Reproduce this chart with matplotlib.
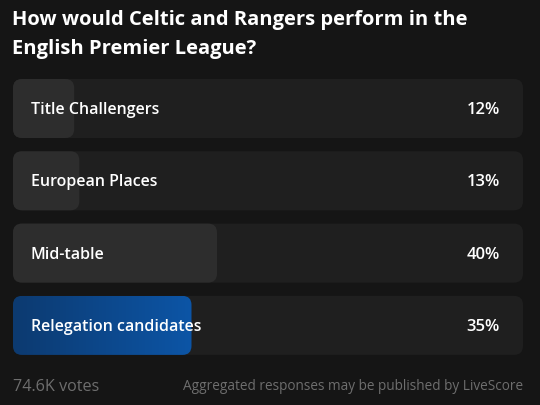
import matplotlib
matplotlib.use("Agg")
import matplotlib.pyplot as plt
from matplotlib.patches import FancyBboxPatch
import numpy as np

title_lines = ["How would Celtic and Rangers perform in the", "English Premier League?"]
categories = ["Title Challengers", "European Places", "Mid-table", "Relegation candidates"]
percentages = [12, 13, 40, 35]
highlight = [False, False, False, True]
votes_text = "74.6K votes"
footer_text = "Aggregated responses may be published by LiveScore"

W, H = 540, 405
fig = plt.figure(figsize=(W / 100, H / 100), dpi=100)
fig.patch.set_facecolor("#151515")
ax = fig.add_axes([0, 0, 1, 1])
ax.set_xlim(0, W)
ax.set_ylim(H, 0)
ax.axis("off")
ax.set_facecolor("#151515")

FONT = ["Open Sans", "DejaVu Sans"]

for j, line in enumerate(title_lines):
    ax.text(12, 25.5 + j * 28.5, line, color="white", fontsize=14.5, fontweight="bold",
            family=FONT, va="baseline", ha="left")

track_x0, track_x1 = 13, 523
track_w = track_x1 - track_x0
row_top0 = 79
row_h = 59
row_gap = 72.3
rad = 9

for i, (cat, pct, hl) in enumerate(zip(categories, percentages, highlight)):
    y0 = row_top0 + i * row_gap
    track = FancyBboxPatch((track_x0, y0), track_w, row_h,
                           boxstyle=f"round,pad=0,rounding_size={rad}",
                           linewidth=0, facecolor="#1f1f1f", zorder=1)
    ax.add_patch(track)
    fw = track_w * pct / 100.0
    if hl:
        bar = FancyBboxPatch((track_x0, y0), fw, row_h,
                             boxstyle=f"round,pad=0,rounding_size={rad}",
                             linewidth=0, facecolor="none", zorder=2)
        ax.add_patch(bar)
        grad = np.linspace(0, 1, 256).reshape(1, -1)
        c0 = np.array([0x0d, 0x3a, 0x70]) / 255
        c1 = np.array([0x0c, 0x55, 0xa6]) / 255
        img = (c0[None, None, :] * (1 - grad[..., None]) + c1[None, None, :] * grad[..., None])
        im = ax.imshow(img, extent=(track_x0, track_x0 + fw, y0 + row_h, y0),
                       aspect="auto", zorder=2, interpolation="bilinear")
        im.set_clip_path(bar)
    else:
        bar = FancyBboxPatch((track_x0, y0), fw, row_h,
                             boxstyle=f"round,pad=0,rounding_size={rad}",
                             linewidth=0, facecolor="#2d2d2d", zorder=2)
        ax.add_patch(bar)
    yc = y0 + row_h / 2 + 1.5
    ax.text(31, yc, cat, color="white", fontsize=11.5, fontweight="semibold",
            family=FONT, va="center", ha="left", zorder=3)
    ax.text(500, yc, f"{pct}%", color="white", fontsize=12, fontweight="semibold",
            family=FONT, va="center", ha="right", zorder=3)

ax.text(13, 387, votes_text, color="#6e6e6e", fontsize=11.6, family=FONT,
        va="center", ha="left")
ax.text(523, 387, footer_text, color="#6e6e6e", fontsize=9.85, family=FONT,
        va="center", ha="right")

ax.set_xlim(0, W)
ax.set_ylim(H, 0)
fig.savefig("out.png", dpi=100, facecolor=fig.get_facecolor())
